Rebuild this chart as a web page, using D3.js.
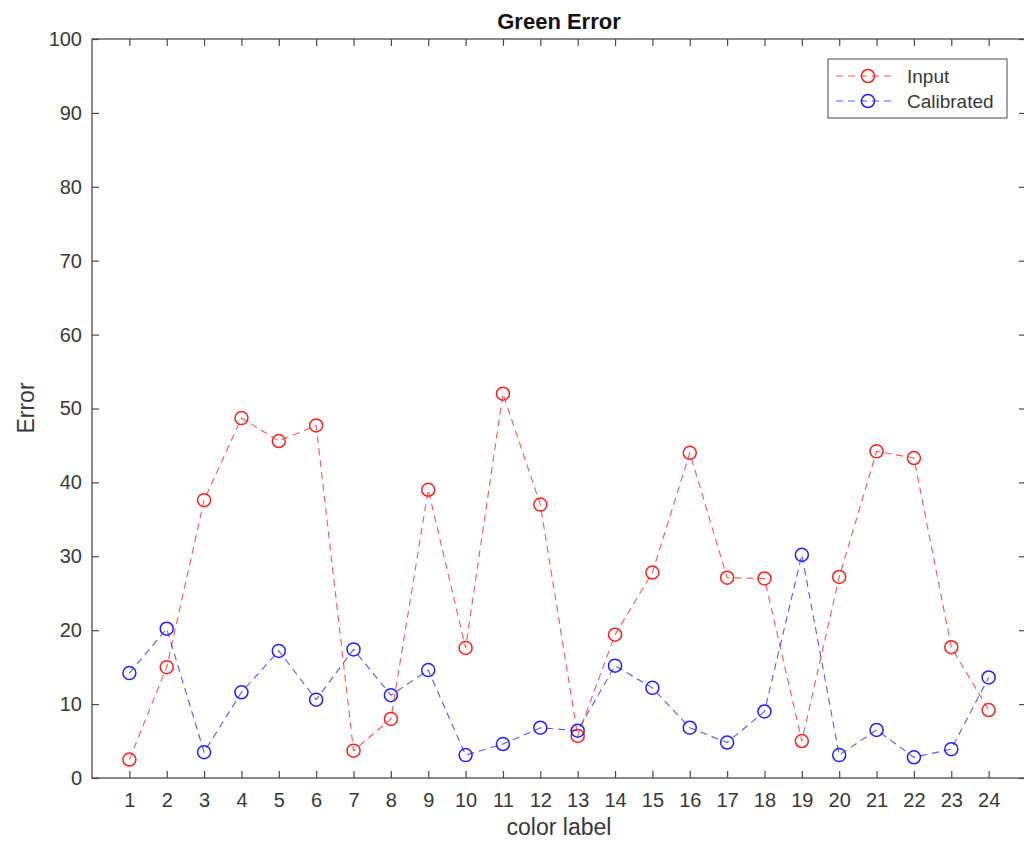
<!DOCTYPE html>
<html>
<head>
<meta charset="utf-8">
<script src="https://cdn.jsdelivr.net/npm/d3@7"></script>
<style>
  body { margin: 0; background: #fff; }
  svg { font-family: "Liberation Sans", Arial, sans-serif; }
</style>
</head>
<body>
<svg id="chart" width="1024" height="844"></svg>
<script>
// color labels 1..24
const labels = d3.range(1, 25);
// error values
const inputErr = [2.5, 15.0, 37.6, 48.7, 45.6, 47.7, 3.7, 8.0, 39.0, 17.6, 52.0, 37.0,
                  5.7, 19.4, 27.8, 44.0, 27.1, 27.0, 5.0, 27.2, 44.2, 43.3, 17.7, 9.2];
const calibErr = [14.2, 20.2, 3.5, 11.6, 17.2, 10.6, 17.4, 11.2, 14.6, 3.1, 4.6, 6.8,
                  6.4, 15.2, 12.2, 6.8, 4.8, 9.0, 30.2, 3.1, 6.5, 2.8, 3.9, 13.6];
const yTicks = d3.range(0, 101, 10);
const seriesNames = ["Input", "Calibrated"];
const seriesColors = ["#ff2020", "#2020ff"];

const svg = d3.select("#chart");
const plotL = 92, plotR = 1026, plotT = 39, plotB = 778;
const axisColor = "#4a4a4a", textColor = "#383838";

const x = d3.scaleLinear().domain([0, 25]).range([plotL, plotR]);
const y = d3.scaleLinear().domain([0, 100]).range([plotB, plotT]);

// box
svg.append("rect")
  .attr("x", plotL).attr("y", plotT)
  .attr("width", plotR - plotL).attr("height", plotB - plotT)
  .attr("fill", "none").attr("stroke", axisColor).attr("stroke-width", 1.3);

const tickLen = 7;
// bottom axis
svg.append("g").attr("transform", `translate(0,${plotB})`)
  .call(d3.axisBottom(x).tickValues(labels).tickSizeInner(-tickLen).tickSizeOuter(0).tickPadding(15));
// top ticks
svg.append("g").attr("transform", `translate(0,${plotT})`)
  .call(d3.axisTop(x).tickValues(labels).tickSizeInner(-tickLen).tickSizeOuter(0).tickFormat(""));
// left axis
svg.append("g").attr("transform", `translate(${plotL},0)`)
  .call(d3.axisLeft(y).tickValues(yTicks).tickSizeInner(-tickLen).tickSizeOuter(0).tickPadding(10));
// right ticks
svg.append("g").attr("transform", `translate(${plotR},0)`)
  .call(d3.axisRight(y).tickValues(yTicks).tickSizeInner(-tickLen).tickSizeOuter(0).tickFormat(""));

svg.selectAll(".domain").remove();
svg.selectAll(".tick line").attr("stroke", axisColor).attr("stroke-width", 1.2);
svg.selectAll(".tick text").attr("fill", textColor).style("font-size", "20px");

// title and axis labels
svg.append("text").attr("x", 559).attr("y", 29)
  .attr("text-anchor", "middle").style("font-size", "22px").style("font-weight", "bold")
  .attr("fill", "#111").text("Green Error");
svg.append("text").attr("x", 559).attr("y", 835)
  .attr("text-anchor", "middle").style("font-size", "23px").attr("fill", textColor)
  .text("color label");
svg.append("text").attr("transform", "translate(34,408) rotate(-90)")
  .attr("text-anchor", "middle").style("font-size", "23px").attr("fill", textColor)
  .text("Error");

// series
const allSeries = [inputErr, calibErr];
const line = d3.line().x((d, i) => x(labels[i])).y(d => y(d));
allSeries.forEach((vals, k) => {
  const g = svg.append("g");
  g.append("path").datum(vals)
    .attr("d", line).attr("fill", "none")
    .attr("stroke", seriesColors[k]).attr("stroke-opacity", 0.75)
    .attr("stroke-width", 1.1).attr("stroke-dasharray", "7,5");
  g.selectAll("circle").data(vals).enter().append("circle")
    .attr("cx", (d, i) => x(labels[i])).attr("cy", d => y(d)).attr("r", 6.5)
    .attr("fill", "none").attr("stroke", seriesColors[k]).attr("stroke-width", 1.5);
});

// legend
const lg = svg.append("g").attr("transform", "translate(828,59)");
lg.append("rect").attr("width", 179).attr("height", 59)
  .attr("fill", "#fff").attr("stroke", axisColor).attr("stroke-width", 1);
seriesNames.forEach((name, k) => {
  const ly = 17 + k * 25;
  lg.append("line").attr("x1", 8).attr("x2", 68).attr("y1", ly).attr("y2", ly)
    .attr("stroke", seriesColors[k]).attr("stroke-opacity", 0.75)
    .attr("stroke-width", 1.1).attr("stroke-dasharray", "7,5");
  lg.append("circle").attr("cx", 40).attr("cy", ly).attr("r", 6.5)
    .attr("fill", "none").attr("stroke", seriesColors[k]).attr("stroke-width", 1.5);
  lg.append("text").attr("x", 79).attr("y", ly + 7)
    .style("font-size", "19px").attr("fill", textColor).text(name);
});
</script>
</body>
</html>
